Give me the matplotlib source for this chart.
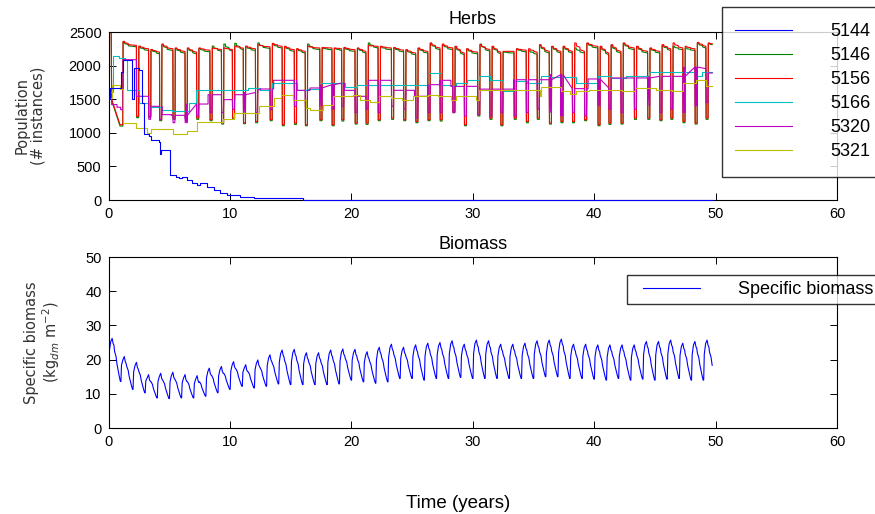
import numpy as np
import matplotlib
matplotlib.use("Agg")
import matplotlib.pyplot as plt
from matplotlib.legend_handler import HandlerLine2D

plt.rcParams['font.family'] = ['Liberation Sans', 'DejaVu Sans']

# ---------------- data ----------------
years_end = 49.72

# Herbs: annual crash times of the dominant herbs (5146 / 5156)
crash_t = [1.0, 2.3, 3.3, 4.2, 5.3, 6.3, 7.25, 8.35, 9.3, 10.2, 11.1, 12.1, 13.3, 14.3,
           15.3, 16.2, 17.4, 18.4, 19.2, 20.3, 21.2, 22.2, 23.3, 24.3, 25.3, 26.3, 27.3,
           28.35, 29.3, 30.4, 31.4, 32.3, 33.4, 34.4, 35.3, 36.3, 37.25, 38.2, 39.2, 40.3,
           41.2, 42.2, 43.3, 44.4, 45.4, 46.3, 47.3, 48.3, 49.2]

# 5156 (red): start segment, then per-crash trough, following peak and plateau end
red_start_t = [0.0, 0.22, 0.26, 0.95]
red_start_v = [2600, 2600, 1500, 1120]
red_trough = [1120, 1245, 1245, 1195, 1220, 1220, 1220, 1195, 1150, 1220, 1150, 1170, 1195,
              1121, 1145, 1121, 1195, 1121, 1195, 1146, 1146, 1195, 1220, 1195, 1170, 1195,
              1195, 1320, 1121, 1270, 1220, 1121, 1220, 1170, 1220, 1146, 1170, 1170, 1195,
              1121, 1146, 1146, 1220, 1220, 1195, 1220, 1170, 1146, 1220]
red_peak = [2360, 2290, 2240, 2320, 2262, 2262, 2262, 2262, 2262, 2290, 2290, 2311, 2330,
            2287, 2250, 2287, 2270, 2262, 2270, 2262, 2300, 2287, 2270, 2237, 2262, 2336,
            2320, 2287, 2250, 2311, 2287, 2212, 2250, 2250, 2311, 2287, 2287, 2336, 2336,
            2287, 2311, 2336, 2287, 2262, 2311, 2336, 2287, 2345, 2336]
red_end = [2300, 2250, 2200, 2250, 2210, 2200, 2230, 2240, 2240, 2260, 2250, 2280, 2287,
           2237, 2212, 2262, 2262, 2250, 2237, 2212, 2287, 2262, 2230, 2187, 2212, 2262,
           2262, 2187, 2200, 2240, 2200, 2212, 2230, 2200, 2212, 2212, 2212, 2212, 2287,
           2187, 2212, 2262, 2212, 2212, 2250, 2262, 2250, 2287, 2311]

# 5146 (green)
green_start_v = [2600, 2600, 1480, 1100]
green_trough = [1100, 1225, 1230, 1180, 1200, 1205, 1200, 1180, 1130, 1200, 1135, 1150, 1180,
                1105, 1125, 1105, 1180, 1105, 1175, 1130, 1125, 1180, 1200, 1180, 1150, 1180,
                1175, 1300, 1105, 1250, 1200, 1105, 1200, 1150, 1200, 1130, 1150, 1150, 1180,
                1105, 1125, 1130, 1200, 1200, 1180, 1200, 1150, 1130, 1200]
green_peak = [2350, 2280, 2235, 2310, 2255, 2255, 2255, 2290, 2320, 2331, 2280, 2336, 2320,
              2280, 2245, 2320, 2262, 2255, 2262, 2255, 2336, 2280, 2262, 2230, 2255, 2330,
              2310, 2280, 2245, 2320, 2280, 2205, 2245, 2220, 2300, 2280, 2280, 2262, 2330,
              2280, 2300, 2330, 2280, 2255, 2300, 2287, 2262, 2335, 2330]
green_end = [2280, 2225, 2175, 2225, 2185, 2175, 2205, 2215, 2215, 2235, 2225, 2255, 2262,
             2212, 2187, 2237, 2237, 2225, 2212, 2187, 2262, 2237, 2205, 2162, 2187, 2237,
             2237, 2162, 2175, 2215, 2175, 2187, 2205, 2170, 2187, 2187, 2187, 2187, 2262,
             2162, 2187, 2237, 2187, 2187, 2225, 2237, 2225, 2262, 2290]

# 5144 (blue): step levels
blue_t = [0.0, 0.15, 1.0, 1.2, 1.9, 2.1, 2.5, 2.8, 2.95, 3.3, 3.5, 4.15, 4.27, 4.35, 5.1, 5.6,
          5.8, 6.05, 6.47, 6.88, 7.29, 7.56, 8.1, 8.66, 9.2, 9.75, 10.85, 11.95, 16.05]
blue_v = [1500, 1660, 1900, 2080, 1510, 1960, 1930, 1440, 980, 950, 890, 870, 680, 745, 372,
          347, 322, 347, 300, 248, 223, 248, 190, 149, 99, 74, 50, 25, 0]

# 5166 (cyan): step levels
cyan_t = [0.0, 0.4, 0.9, 1.4, 1.5, 2.5, 3.3, 4.4, 5.2, 6.6, 7.2, 11.5, 12.5, 13.5, 15.5, 16.4,
          17.5, 19.45, 20.5, 26.4, 27.4, 28.2, 28.6, 29.5, 30.55, 31.4, 32.5, 33.4, 34.5,
          35.6, 36.4, 38.5, 40.3, 41.4, 42.6, 44.5, 48.4, 48.9]
cyan_v = [1600, 2150, 2120, 2090, 1630, 1450, 1390, 1345, 1320, 1440, 1630, 1666, 1641, 1741,
          1633, 1657, 1741, 1682, 1716, 1890, 1716, 1700, 1741, 1790, 1840, 1780, 1627, 1766,
          1741, 1840, 1826, 1741, 1840, 1816, 1840, 1900, 1840, 1900]

# 5320 (magenta): step levels plus the dip at each crash
mag_t = [0.0, 0.26, 0.7, 1.0, 1.2, 2.3, 3.3, 4.4, 5.2, 6.4, 8.2, 9.3, 10.4, 11.2, 12.3, 12.5,
         13.6, 15.5, 16.6, 17.5, 18.5, 19.4, 20.3, 21.4, 23.3, 25.2, 26.3, 27.3, 28.2, 30.4,
         33.4, 36.4, 37.3, 39.5, 40.4, 41.4, 44.5, 47.4, 48.4, 49.2]
mag_v = [1518, 1420, 1380, 1344, 2088, 1543, 1394, 1270, 1260, 1428, 1567, 1494, 1567, 1600,
         1640, 1652, 1781, 1632, 1667, 1716, 1741, 1632, 1543, 1781, 1632, 1543, 1716, 1781,
         1691, 1650, 1790, 1865, 1657, 1801, 1667, 1816, 1840, 1979, 1955, 1890]
mag_dip = [0, 0, 1200, 1200, 1150, 1150, 1250, 1300, 1300, 1350, 1300, 1300, 1344, 0, 1394,
           1394, 1400, 1350, 1394, 1300, 1350, 1300, 1394, 1350, 1220, 1300, 1300, 1300, 1250,
           1270, 1250, 1300, 1250, 1300, 1350, 1300, 1250, 1300, 1250, 1400, 1350, 1300, 1350,
           1400, 1300, 1350, 1300, 1400, 1450]

# 5321 (yellow): step levels
yel_t = [0.0, 0.26, 0.95, 1.2, 2.3, 3.2, 3.5, 5.3, 6.5, 7.3, 9.4, 10.3, 12.4, 13.6, 14.2, 15.2,
         16.3, 16.6, 17.7, 18.5, 20.1, 20.7, 21.5, 22.3, 23.3, 24.2, 25.1, 26.3, 27.1, 28.2,
         28.6, 30.3, 30.5, 35.5, 35.6, 37.25, 38.0, 38.5, 39.6, 42.3, 43.4, 45.1, 46.4, 47.3,
         48.4, 49.2]
yel_v = [1518, 1706, 1650, 1146, 1075, 1000, 1060, 975, 1030, 1160, 1210, 1300, 1394, 1518,
         1567, 1494, 1369, 1344, 1418, 1543, 1567, 1494, 1456, 1543, 1518, 1494, 1543, 1560,
         1543, 1494, 1543, 1494, 1632, 1543, 1681, 1617, 1582, 1627, 1641, 1620, 1666, 1641,
         1617, 1741, 1781, 1691]

# Biomass: value at t=0, then the yearly peak and the following trough
bio_start = 16.0
bio_peak = [26.2, 20.9, 19.2, 15.6, 16.0, 16.3, 15.6, 15.3, 17.5, 18.0,
            19.4, 18.5, 19.9, 21.4, 22.8, 23.0, 22.0, 22.0, 22.8, 23.1,
            23.0, 22.3, 23.6, 24.5, 23.6, 24.3, 24.8, 25.0, 25.5, 24.5,
            25.7, 25.5, 24.5, 24.5, 24.8, 25.5, 25.7, 26.0, 24.5, 24.5,
            24.3, 24.3, 24.3, 24.3, 25.3, 25.3, 25.7, 24.8, 25.3, 25.7]
bio_trough = [13.6, 11.3, 10.3, 8.8, 8.6, 8.8, 8.8, 9.3, 10.3, 11.3,
              12.2, 11.7, 12.2, 12.9, 12.7, 12.7, 12.7, 12.7, 12.9, 14.0,
              13.5, 13.1, 13.5, 14.5, 14.5, 14.0, 14.5, 14.5, 14.8, 14.5,
              14.5, 14.5, 14.5, 14.5, 14.5, 15.0, 15.0, 14.5, 14.5, 14.3,
              14.0, 14.5, 14.0, 14.3, 14.0, 14.3, 14.5, 14.0, 14.0, 14.0]

herb_labels = ['5144', '5146', '5156', '5166', '5320', '5321']
bio_label = 'Specific biomass'


# ---------------- series assembly ----------------
def steps(t, v, t_end):
    xs, ys = [], []
    for i in range(len(t)):
        if i > 0:
            xs.append(t[i]); ys.append(v[i - 1])
        xs.append(t[i]); ys.append(v[i])
    xs.append(t_end); ys.append(v[-1])
    return np.array(xs), np.array(ys)


def herb(start_t, start_v, drops, trough, peak, end, t_end):
    xs, ys = list(start_t), list(start_v)
    prev = start_v[-1]
    for k, d in enumerate(drops):
        nxt = drops[k + 1] if k + 1 < len(drops) else t_end + 0.5
        r = d + 0.2
        p, e = peak[k], end[k]
        xs += [d, d + 0.02, d + 0.18, r, r + 0.12, r + 0.14, r + 0.42, r + 0.44, nxt - 0.02]
        ys += [prev, trough[k], trough[k], p, p, p - 0.35 * (p - e), p - 0.5 * (p - e),
               p - 0.8 * (p - e), e]
        prev = e
    xs, ys = np.array(xs), np.array(ys)
    m = xs <= t_end
    return np.append(xs[m], t_end), np.append(ys[m], np.interp(t_end, xs, ys))


def with_dips(t, v, drops, dips, t_end):
    xs, ys = steps(t, v, t_end)
    pts = list(zip(xs, ys, range(len(xs))))
    n = len(xs)
    for d, dv in zip(drops, dips):
        if dv <= 0:
            continue
        lvl = v[np.searchsorted(t, d, side='right') - 1]
        for j, (dt, val) in enumerate([(0.0, lvl), (0.02, dv), (0.16, dv), (0.19, lvl)]):
            pts.append((d + dt, val, n + j))
        n += 4
    pts.sort(key=lambda p: (p[0], p[2]))
    return np.array([p[0] for p in pts]), np.array([p[1] for p in pts])


def biomass(start, peaks, troughs, t_end):
    xs, ys = [0.0], [start]
    prev = start
    for k, (P, T) in enumerate(zip(peaks, troughs)):
        xs += [k + 0.02, k + 0.07, k + 0.18, k + 0.3, k + 0.38, k + 0.45, k + 0.5, k + 0.62,
               k + 0.7, k + 0.82, k + 0.9, k + 0.98]
        ys += [prev, prev + 0.65 * (P - prev), P - 1.0, P, P - 1.5, P - 2.0,
               P - 0.3 * (P - T), P - 0.42 * (P - T), P - 0.6 * (P - T),
               T + 0.22 * (P - T), T + 0.1 * (P - T), T]
        prev = T
    xs, ys = np.array(xs), np.array(ys)
    m = xs <= t_end
    return np.append(xs[m], t_end), np.append(ys[m], np.interp(t_end, xs, ys))


# ---------------- figure ----------------
W, H = 875, 514
fig = plt.figure(figsize=(W / 100, H / 100), dpi=100)
left, right = 108.5, 837
ax1 = fig.add_axes([left / W, 1 - 200 / H, (right - left) / W, 168 / H])
ax2 = fig.add_axes([left / W, 1 - 428 / H, (right - left) / W, 171 / H])

lw = 0.8
colors = ['#0000ff', '#008000', '#ff0000', '#00bfbf', '#bf00bf', '#bfbf00']
series = [
    steps(blue_t, blue_v, years_end),
    herb(red_start_t, green_start_v, crash_t, green_trough, green_peak, green_end, years_end),
    herb(red_start_t, red_start_v, crash_t, red_trough, red_peak, red_end, years_end),
    steps(cyan_t, cyan_v, years_end),
    with_dips(mag_t, mag_v, crash_t, mag_dip, years_end),
    steps(yel_t, yel_v, years_end),
]
handles = []
for i, ((x, y), c, lab) in enumerate(zip(series, colors, herb_labels)):
    if i == 0:
        h, = ax1.plot(x, y, color=c, lw=lw, label=lab, zorder=3, clip_on=False)
    else:
        h, = ax1.plot(x, y, color=c, lw=lw, label=lab)
    handles.append(h)

bx, by = biomass(bio_start, bio_peak, bio_trough, years_end)
hb, = ax2.plot(bx, by, color='#0000ff', lw=lw, label=bio_label)

for ax in (ax1, ax2):
    ax.set_xlim(0, 60)
    ax.set_xticks(range(0, 61, 10))
    ax.tick_params(direction='in', top=True, right=True, length=5, width=0.7,
                   labelsize=10.5, pad=5, colors='black')
    for s in ax.spines.values():
        s.set_linewidth(0.8)
ax1.set_ylim(0, 2500)
ax1.set_yticks(range(0, 2501, 500))
ax2.set_ylim(0, 50)
ax2.set_yticks(range(0, 51, 10))

ax1.set_title('Herbs', fontsize=13, pad=5.5)
ax2.set_title('Biomass', fontsize=13, pad=5.5)
ax1.set_ylabel('Population\n(# instances)', fontsize=10.5, color='#333333',
               family=['DejaVu Sans'], linespacing=1.05, labelpad=17)
ax2.set_ylabel('Specific biomass\n(kg$_{dm}$ m$^{-2}$)', fontsize=10.5, color='#333333',
               family=['DejaVu Sans'], linespacing=1.05, labelpad=17)
fig.text(458 / W, 1 - 503 / H, 'Time (years)', ha='center', va='center', fontsize=13.5)

fs = 13
fpx = fs * 100 / 72
bp1 = 0.9
leg1 = fig.legend(handles=handles, loc='upper left',
                  bbox_to_anchor=(722 / W, 1 - 7 / H), borderaxespad=0,
                  fontsize=fs, frameon=True, fancybox=False, shadow=False,
                  borderpad=bp1, handlelength=(792 - 722 - bp1 * fpx) / fpx,
                  handletextpad=38 / fpx, labelspacing=0.39,
                  handler_map={h: HandlerLine2D(xpad=(13 - bp1 * fpx) / fpx)
                               for h in handles})
leg1.get_frame().set_edgecolor('black')
leg1.get_frame().set_linewidth(1.0)

bp2 = 0.34
leg2 = fig.legend(handles=[hb], loc='upper left',
                  bbox_to_anchor=(627 / W, 1 - 275 / H), borderaxespad=0,
                  fontsize=fs, frameon=True, fancybox=False, shadow=False,
                  borderpad=bp2, handlelength=(700 - 627 - bp2 * fpx) / fpx,
                  handletextpad=38 / fpx,
                  handler_map={hb: HandlerLine2D(xpad=(16 - bp2 * fpx) / fpx)})
leg2.get_frame().set_edgecolor('black')
leg2.get_frame().set_linewidth(1.0)

fig.savefig('out.png', dpi=100)
